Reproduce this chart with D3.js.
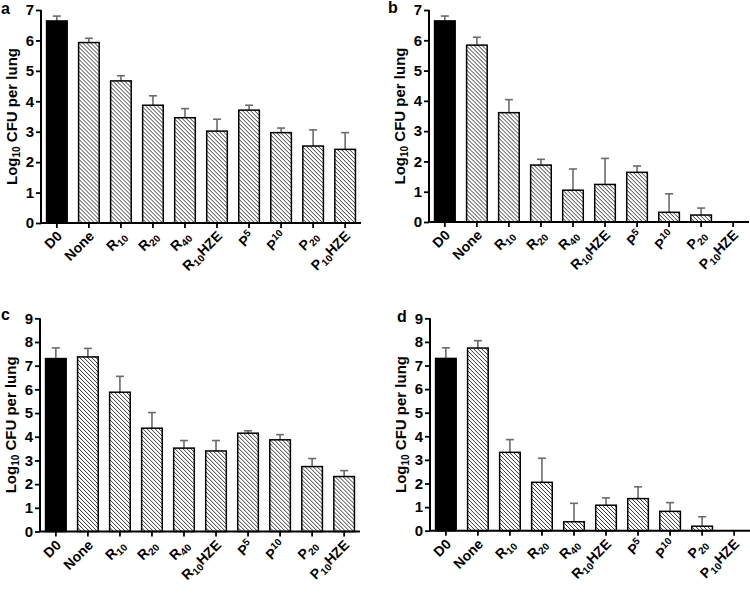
<!DOCTYPE html>
<html><head><meta charset="utf-8">
<script src="https://cdn.jsdelivr.net/npm/d3@7"></script>
<style>body{margin:0;background:#fff}svg{display:block}text{font-family:"Liberation Sans",Arial,sans-serif;font-weight:bold}</style>
</head><body>
<svg id="c" width="750" height="593"></svg>
<script>
const categories = ["D0","None","R10","R20","R40","R10HZE","P5","P 10","P 20","P 10HZE"];
const catMain   = ["D0","None","R","R","R","R","P","P ","P ","P "];
const catScript = ["","","10","20","40","10","5","10","20","10"];
const catSuffix = ["","","","","","HZE","","","","HZE"];
const catType   = ["","","sub","sub","sub","sub","sup","sup","sub","sub"];

const aMean = [6.64,5.93,4.67,3.87,3.46,3.02,3.71,2.97,2.53,2.42];
const aSD   = [0.16,0.14,0.17,0.31,0.30,0.39,0.16,0.15,0.53,0.55];
const bMean = [6.64,5.84,3.61,1.88,1.05,1.24,1.64,0.32,0.23,0];
const bSD   = [0.16,0.26,0.43,0.19,0.70,0.86,0.21,0.61,0.23,0];
const cMean = [7.30,7.37,5.88,4.36,3.52,3.40,4.15,3.87,2.74,2.32];
const cSD   = [0.45,0.36,0.67,0.66,0.32,0.44,0.10,0.22,0.34,0.25];
const dMean = [7.30,7.74,3.32,2.05,0.38,1.08,1.36,0.82,0.19,0];
const dSD   = [0.45,0.31,0.54,1.02,0.78,0.31,0.50,0.37,0.40,0];

const yTicksAB = [0,1,2,3,4,5,6,7];
const yTicksCD = [0,1,2,3,4,5,6,7,8,9];

const svg = d3.select("#c");

const panels = [
  {letter:"a", lx:1, ly:14, ax:41, y0:223, yTop:10, max:7, ticks:yTicksAB, mean:aMean, sd:aSD},
  {letter:"b", lx:388, ly:13, ax:429, y0:222, yTop:10, max:7, ticks:yTicksAB, mean:bMean, sd:bSD},
  {letter:"c", lx:1, ly:320, ax:40, y0:531.5, yTop:318.3, max:9, ticks:yTicksCD, mean:cMean, sd:cSD},
  {letter:"d", lx:397, ly:322, ax:430, y0:530.7, yTop:318.3, max:9, ticks:yTicksCD, mean:dMean, sd:dSD}
];

// hatch lines (\ direction) computed inside a rectangle, no pattern defs
function hatchPath(x0, y0, x1, y1, step) {
  let d = "";
  for (let c = x0 - y1; c <= x1 - y0; c += step) {
    const xs = Math.max(x0, y0 + c), xe = Math.min(x1, y1 + c);
    if (xe > xs) d += `M${xs.toFixed(2)},${(xs - c).toFixed(2)}L${xe.toFixed(2)},${(xe - c).toFixed(2)}`;
  }
  return d;
}

function segLabel(parent, segs) {
  const nodes = segs.map(s => parent.append("text").attr("font-size", s.size).attr("y", s.dy).text(s.text));
  const widths = nodes.map(n => n.node().getComputedTextLength());
  let xpos = -d3.sum(widths);
  nodes.forEach((n,k) => { n.attr("x", xpos.toFixed(2)); xpos += widths[k]; });
}

panels.forEach(p => {
  const g = svg.append("g");
  const x = d3.scaleBand().domain(categories).range([p.ax, p.ax+320]).paddingInner(0.31).paddingOuter(0.15);
  const y = d3.scaleLinear().domain([0,p.max]).range([p.y0,p.yTop]);

  const eg = g.append("g").attr("stroke","#6b6b6b").attr("stroke-width",1.6).attr("fill","none");
  categories.forEach((c,i) => {
    if (p.mean[i] <= 0) return;
    const cx = x(c) + x.bandwidth()/2;
    eg.append("line").attr("x1",cx).attr("x2",cx).attr("y1",y(p.mean[i])).attr("y2",y(p.mean[i]+p.sd[i]));
    eg.append("line").attr("x1",cx-4).attr("x2",cx+4).attr("y1",y(p.mean[i]+p.sd[i])).attr("y2",y(p.mean[i]+p.sd[i]));
  });
  categories.forEach((c,i) => {
    if (p.mean[i] <= 0) return;
    const bx = x(c)+0.75, bw = x.bandwidth()-1.5, by = y(p.mean[i]), bh = p.y0 - y(p.mean[i]);
    g.append("rect").attr("x",bx).attr("width",bw).attr("y",by).attr("height",bh)
      .attr("fill", c==="D0" ? "#000" : "#fff");
    if (c !== "D0") {
      g.append("path").attr("d", hatchPath(bx, by, bx+bw, by+bh, 4))
        .attr("stroke","#222").attr("stroke-width",0.9).attr("fill","none");
    }
    g.append("rect").attr("x",bx).attr("width",bw).attr("y",by).attr("height",bh)
      .attr("fill","none").attr("stroke","#000").attr("stroke-width",1.5);
  });

  const yAxis = d3.axisLeft(y).tickValues(p.ticks).tickFormat(d3.format("d")).tickSize(5).tickPadding(2);
  const ya = g.append("g").attr("transform",`translate(${p.ax},0)`).call(yAxis);
  ya.select(".domain").attr("d",`M0,${p.y0}V${p.yTop}`).attr("stroke-width",2);
  ya.selectAll(".tick line").attr("stroke-width",1.8);
  ya.selectAll(".tick text").attr("font-size",15).attr("font-weight","bold").attr("font-family","Liberation Sans, Arial, sans-serif").attr("fill","#000");

  const xAxis = d3.axisBottom(x).tickSize(5).tickFormat("");
  const xa = g.append("g").attr("transform",`translate(0,${p.y0})`).call(xAxis);
  xa.select(".domain").attr("d",`M${p.ax},0H${p.ax+320}`).attr("stroke-width",2);
  xa.selectAll(".tick line").attr("stroke-width",1.8);

  categories.forEach((c,i) => {
    const cx = Math.round(x(c) + x.bandwidth()/2);
    const lg = svg.append("g").attr("transform",`translate(${cx+6},${Math.round(p.y0+14)}) rotate(-45)`);
    const segs = [{text:catMain[i], size:14, dy:0}];
    if (catScript[i]) {
      segs.push({text:catScript[i], size:10, dy: catType[i]==="sub" ? 3 : -5});
      if (catSuffix[i]) segs.push({text:catSuffix[i], size:14, dy:0});
    }
    segLabel(lg, segs);
  });

  const yg = g.append("g").attr("transform",`translate(${p.ax-24},${(p.y0+p.yTop)/2}) rotate(-90)`);
  const yl = yg.append("text").attr("text-anchor","middle").attr("font-size",15);
  yl.append("tspan").text("Log");
  yl.append("tspan").attr("font-size",10).attr("dy",3).text("10");
  yl.append("tspan").attr("dy",-3).text(" CFU per lung");

  svg.append("text").attr("x",p.lx).attr("y",p.ly).attr("font-size",16).text(p.letter);
});
</script>
</body></html>
